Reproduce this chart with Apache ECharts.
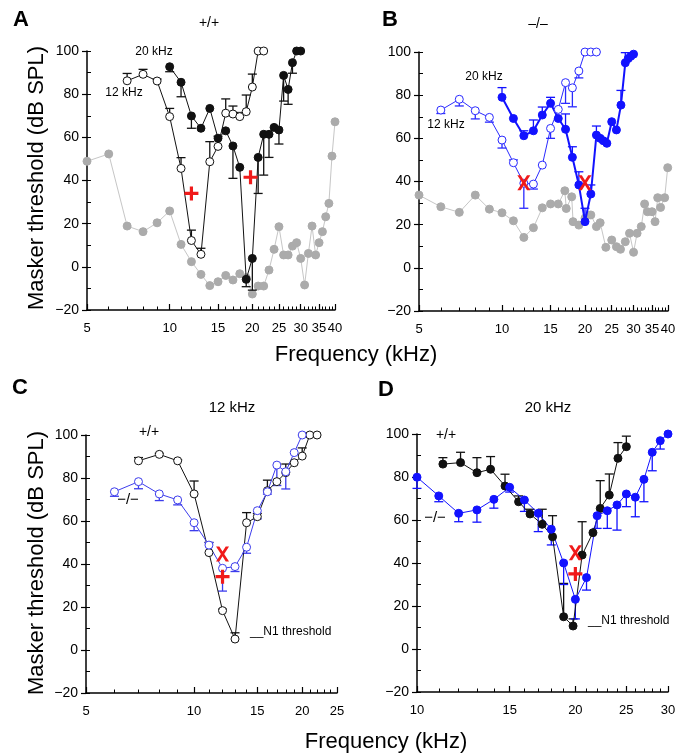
<!DOCTYPE html>
<html><head><meta charset="utf-8">
<script src="https://cdn.jsdelivr.net/npm/echarts@6/dist/echarts.min.js"></script>
<style>html,body{margin:0;padding:0;background:#fff}#c{width:685px;height:754px}</style>
</head><body><div id="c"></div>
<script>
// ---------- Panel A (+/+) ----------
var aP12Freq = [7,8,9,10,11,12,13,14,15,16,17,18,19,20,21,22];
var aP12Thr  = [86.2,89.2,86.1,69.6,45.6,12.2,5.8,48.7,55.8,71.2,70.8,69.6,71.9,83.3,100,100];
var aP12Err  = [89.6,91.5,87,73.4,50.6,17,8.6,58,60.5,77.8,74.5,71.5,79.6,89.3,null,null];
var aP20Freq = [10,11,12,13,14,15,16,17,18,19,20,21,22,23,24,25,26,27,28,29,30];
var aP20Thr  = [92.7,85.5,69.9,64.2,73.4,59.6,63,56,46.1,-5.8,3.9,50.7,61.4,61.4,64.6,63.4,88.7,82.2,94.6,100,100];
var aP20Err  = [90.4,78.8,64.2,null,null,null,null,41,null,-9.2,-10.8,34,42.5,50.7,null,56.9,76.8,75.3,89.7,null,null];
var aN1Freq  = [5,6,7,8,9,10,11,12,13,14,15,16,17,18,19,20,21,22,23,24,25,26,27,28,29,30,31,32,33,34,35,36,37,38,39,40];
var aN1Thr   = [48.9,52.3,18.9,16.3,20.4,25.9,10.4,2.4,-3.5,-8.7,-6.9,-4,-6.1,-3.2,-5,-12.6,-8.9,-8.9,-1.5,8.1,18.6,5.5,5.5,9.6,11.2,3.9,-8.4,6.2,18.9,5.5,11.2,16.3,23.2,29.4,51.3,67.2];
var aPlus    = [[12,34],[19.7,41.5]];
// ---------- Panel B (-/-) ----------
var bP12Freq = [6,7,8,9,10,11,12,13,14,15,16,17,18,19,20,21,22];
var bP12Thr  = [73.1,78.1,72.8,69.7,59.2,48.7,39.2,38.8,47.6,64.6,73.4,85.8,83.4,91.2,100,100,100];
var bP12Err  = [71.5,75,69,67.5,55.5,50,27.6,36.5,null,60,null,76.2,74.6,88,null,null,null];
var bP20Freq = [10,11,12,13,14,15,16,17,18,19,20,21,22,22.7,23.3,24,25,26,27,28,28.7,29.3,30];
var bP20Thr  = [79,69.2,61.2,63.5,70.8,76.2,69.2,64.2,51.2,38.4,21.4,34.2,61.5,60,58.9,57.7,67.7,63.9,75.4,95,97,98,99];
var bP20Err  = [83.5,null,63.5,68.5,74.5,79,null,71.3,56.1,44.5,27.6,38.4,65.7,null,null,null,null,null,82.2,99.7,null,null,null];
var bN1Freq  = [5,6,7,8,9,10,11,12,13,14,15,16,16.9,17.1,17.9,18.1,19,20,21,22,22.7,23.8,25,26,26.9,28,29,30,30.9,32,32.9,33.7,35,35.9,36.7,37.6,38.9,39.9];
var bN1Thr   = [33.7,28.3,25.7,33.7,27.2,25.5,21.8,14.1,18.6,27.8,29.6,29.6,35.7,27.5,32.9,21.4,19.8,23,24.5,19.1,20.9,9.5,12.9,9.8,8.6,12.1,16,7.2,16,19.1,29.6,26,26,21.4,32.5,28,32.5,46.4];
var bCross   = [[12,39.4],[20,39.4]];
// ---------- Panel C (12 kHz) ----------
var cWtFreq = [7,8,9,10,11,12,13,14,15,16,17,18,19,20,21,22];
var cWtThr  = [88,91,88,72.6,45.3,18.3,5.1,59.2,62,74.1,78.3,82.5,87.1,90.2,100,100];
var cWtErr  = [89.5,91.5,88.5,78.6,50,19,8,63.9,63.5,79,null,86.5,null,94,null,null];
var cKoFreq = [6,7,8,9,10,11,12,13,14,15,16,17,18,19,20];
var cKoThr  = [73.6,78.3,72.6,69.8,59.2,48.8,38,38.8,47.8,64.8,73.6,86,82.9,91.8,100];
var cKoErr  = [71.5,75,69.5,67.5,55.5,50,27.4,36.5,45,61,72.5,76.5,74.9,null,null];
var cCross  = [[12,44.7]];
var cPlus   = [[12,34.1]];
// ---------- Panel D (20 kHz) ----------
var dWtFreq = [11.2,12.1,13,13.8,14.7,15.6,16.4,17.3,18.1,19,19.8,20.6,21.6,22.3,23.2,24.1,25];
var dWtThr  = [86,86.7,82,83.6,75.8,68.5,62.8,58,52.2,15,10.7,43.7,54.1,65.4,71.6,88.7,94.1];
var dWtErr  = [89,91.5,89,89.5,81.3,71.2,65,65,62,30.5,14,59.2,null,78.3,81.4,96,99];
var dKoFreq = [10,11,12,13,14,15,16,17,18,19,20,21,22,23,24,25,26,27,28,29,30];
var dKoThr  = [79.9,71.2,63.1,64.7,69.6,75.2,69.3,63.1,55.7,40,23.1,33.2,62,64.3,67,72.1,70.6,78.9,91.5,96.9,100];
var dKoErr  = [74.7,68.5,59.2,59,65.5,73,64,54.6,48.4,30,14,27.4,56.1,56.1,55.3,66.2,61.5,68.5,82.9,93,null];
var dCross  = [[20,44.8]];
var dPlus   = [[20,34.9]];
// ---------- ticks ----------
var abTickLabels = [5,10,15,20,25,30,35,40];
var cTickLabels = [5,10,15,20,25];
var dTickLabels = [10,15,20,25,30];
function range(a,b){var r=[];for(var i=a;i<=b;i++)r.push(i);return r;}

var FONT = '"Liberation Sans", Arial, Helvetica, sans-serif';
var grids = [
  {left:87, top:51, width:248, height:259},
  {left:419, top:52, width:249, height:259},
  {left:86, top:435, width:251, height:258},
  {left:417, top:434, width:251, height:258}
];
var xr = [[5,40,abTickLabels],[5,40,abTickLabels],[5,25,cTickLabels],[10,30,dTickLabels]];
var xAxes = [], yAxes = [];
grids.forEach(function(g,i){
  var mn = xr[i][0], mx = xr[i][1];
  xAxes.push({gridIndex:i, type:'log', logBase:10, min:mn, max:mx, position:'bottom',
    axisLine:{onZero:false,lineStyle:{color:'#000',width:1.5}},
    axisTick:{inside:true,length:6,customValues:xr[i][2],lineStyle:{color:'#000',width:1.2}},
    axisLabel:{customValues:xr[i][2],fontSize:13,color:'#000',margin:12,fontFamily:FONT,
      formatter:function(v){return String(Math.round(v));}},
    splitLine:{show:false}, minorSplitLine:{show:false}});
  xAxes.push({gridIndex:i, type:'log', logBase:10, min:mn, max:mx, position:'bottom',
    axisLine:{show:false,onZero:false},
    axisTick:{inside:true,length:3.5,customValues:range(mn,mx),lineStyle:{color:'#000',width:1}},
    axisLabel:{show:false}, splitLine:{show:false}});
  yAxes.push({gridIndex:i, type:'value', min:-20, max:100, interval:20, position:'left',
    axisLine:{show:true,onZero:false,lineStyle:{color:'#000',width:1.5}},
    axisTick:{show:true,inside:false,length:5,lineStyle:{color:'#000',width:1.2}},
    axisLabel:{fontSize:14,color:'#000',margin:8,fontFamily:FONT,
      formatter:function(v){return v<0?'\u2212'+(-v):String(v);}},
    splitLine:{show:false}});
  yAxes.push({gridIndex:i, type:'value', min:-20, max:100, interval:10, position:'left',
    axisLine:{show:false,onZero:false},
    axisTick:{show:true,inside:true,length:4,lineStyle:{color:'#000',width:1}},
    axisLabel:{show:false}, splitLine:{show:false}});
});

function pts(f,v){return f.map(function(x,i){return [x,v[i]];});}
function errs(f,v,e){var o=[];f.forEach(function(x,i){if(e[i]!=null)o.push([x,v[i],e[i]]);});return o;}
function line(p,data,o){
  return {type:'line', xAxisIndex:p*2, yAxisIndex:p*2, data:data, symbol:'circle',
    symbolSize:o.size||8, showSymbol:true, animation:false, silent:true,
    lineStyle:{color:o.line,width:o.lw||1}, itemStyle:{color:o.fill,borderColor:o.border,borderWidth:o.bw||1,opacity:1},
    z:o.z||3};
}
function errbar(p,data,color){
  return {type:'custom', xAxisIndex:p*2, yAxisIndex:p*2, data:data, encode:{x:0,y:[1,2]},
    animation:false, silent:true, z:2,
    renderItem:function(params,api){
      var p0=api.coord([api.value(0),api.value(1)]);
      var p1=api.coord([api.value(0),api.value(2)]);
      var st={stroke:color,lineWidth:1.3};
      return {type:'group',children:[
        {type:'line',shape:{x1:p0[0],y1:p0[1],x2:p1[0],y2:p1[1]},style:st},
        {type:'line',shape:{x1:p1[0]-4.5,y1:p1[1],x2:p1[0]+4.5,y2:p1[1]},style:st}]};
    }};
}
var PLUS='path://M5.4,0 H8.6 V5.4 H14 V8.6 H8.6 V14 H5.4 V8.6 H0 V5.4 H5.4 Z';
var CROSS='path://M0,0 L2.8,0 L5.5,4.4 L8.2,0 L11,0 L6.9,6.5 L11,13 L8.2,13 L5.5,8.6 L2.8,13 L0,13 L4.1,6.5 Z';
var RED='#f01a1a';
function mark(p,data,sym,w,h){
  return {type:'scatter', xAxisIndex:p*2, yAxisIndex:p*2, data:data, symbol:sym, symbolSize:[w,h],
    itemStyle:{color:RED,opacity:1}, animation:false, silent:true, z:6};
}
var GRAYP='#ababab', GRAYL='#c6c6c6', BLK='#111';
var BLUE='#1212ff', BLUE2='#2a2aff', BLUEC='#3c3cec';

var series = [
  // A
  line(0,pts(aN1Freq,aN1Thr),{line:GRAYL,fill:GRAYP,border:GRAYP,z:1}),
  errbar(0,errs(aP12Freq,aP12Thr,aP12Err),BLK),
  errbar(0,errs(aP20Freq,aP20Thr,aP20Err),BLK),
  line(0,pts(aP12Freq,aP12Thr),{line:BLK,fill:'#fff',border:BLK}),
  line(0,pts(aP20Freq,aP20Thr),{line:BLK,fill:BLK,border:BLK}),
  mark(0,aPlus,PLUS,14,14),
  // B
  line(1,pts(bN1Freq,bN1Thr),{line:GRAYL,fill:GRAYP,border:GRAYP,z:1}),
  errbar(1,errs(bP12Freq,bP12Thr,bP12Err),BLUE2),
  errbar(1,errs(bP20Freq,bP20Thr,bP20Err),BLUE),
  line(1,pts(bP12Freq,bP12Thr),{line:BLUE2,fill:'#fff',border:BLUE2}),
  line(1,pts(bP20Freq,bP20Thr),{line:BLUE,lw:2,fill:BLUE,border:BLUE}),
  mark(1,bCross,CROSS,13,15),
  // C
  errbar(2,errs(cWtFreq,cWtThr,cWtErr),BLK),
  errbar(2,errs(cKoFreq,cKoThr,cKoErr),BLUEC),
  line(2,pts(cWtFreq,cWtThr),{line:BLK,fill:'#fff',border:BLK,size:8}),
  line(2,pts(cKoFreq,cKoThr),{line:BLUEC,fill:'#fff',border:BLUEC,size:8}),
  mark(2,cCross,CROSS,13,15),
  mark(2,cPlus,PLUS,14,14),
  // D
  errbar(3,errs(dWtFreq,dWtThr,dWtErr),BLK),
  errbar(3,errs(dKoFreq,dKoThr,dKoErr),BLUE),
  line(3,pts(dWtFreq,dWtThr),{line:BLK,fill:BLK,border:BLK,size:8}),
  line(3,pts(dKoFreq,dKoThr),{line:BLUE,fill:BLUE,border:BLUE,size:8}),
  mark(3,dCross,CROSS,13,15),
  mark(3,dPlus,PLUS,14,14)
];

function txt(s,x,y,size,opt){
  opt=opt||{};
  return {type:'text', x:x, y:y, rotation:opt.rot||0, silent:true, z:10,
    style:{text:s, fill:'#000', fontSize:size, fontFamily:FONT, fontWeight:opt.bold?'bold':'normal',
      align:opt.align||'center', verticalAlign:'middle', textAlign:opt.align||'center', textVerticalAlign:'middle'}};
}
var graphics = [
  txt('A',13,20,22,{bold:true,align:'left'}),
  txt('B',382,20,22,{bold:true,align:'left'}),
  txt('C',12,388,22,{bold:true,align:'left'}),
  txt('D',378,390,22,{bold:true,align:'left'}),
  txt('+/+',209,23,14),
  txt('\u2013/\u2013',538,24,14),
  txt('12 kHz',232,408,15),
  txt('20 kHz',548,408,15),
  txt('20 kHz',154,52,12),
  txt('12 kHz',124,93,12),
  txt('20 kHz',484,77,12),
  txt('12 kHz',446,125,12),
  txt('+/+',149,432,14),
  txt('\u2212/\u2212',128,500,15),
  txt('__N1 threshold',250,632,12,{align:'left'}),
  txt('+/+',446,435,14),
  txt('\u2212/\u2212',435,518,15),
  txt('__N1 threshold',588,621,12,{align:'left'}),
  txt('Masker threshold (dB SPL)',37,178,22,{rot:Math.PI/2}),
  txt('Masker threshold (dB SPL)',37,563,22,{rot:Math.PI/2}),
  txt('Frequency (kHz)',356,355,22),
  txt('Frequency (kHz)',386,742,22)
];

var chart = echarts.init(document.getElementById('c'), null, {renderer:'canvas'});
chart.setOption({
  animation:false,
  backgroundColor:'#fff',
  textStyle:{fontFamily:FONT},
  grid:grids,
  xAxis:xAxes,
  yAxis:yAxes,
  series:series,
  graphic:graphics
});
</script></body></html>
